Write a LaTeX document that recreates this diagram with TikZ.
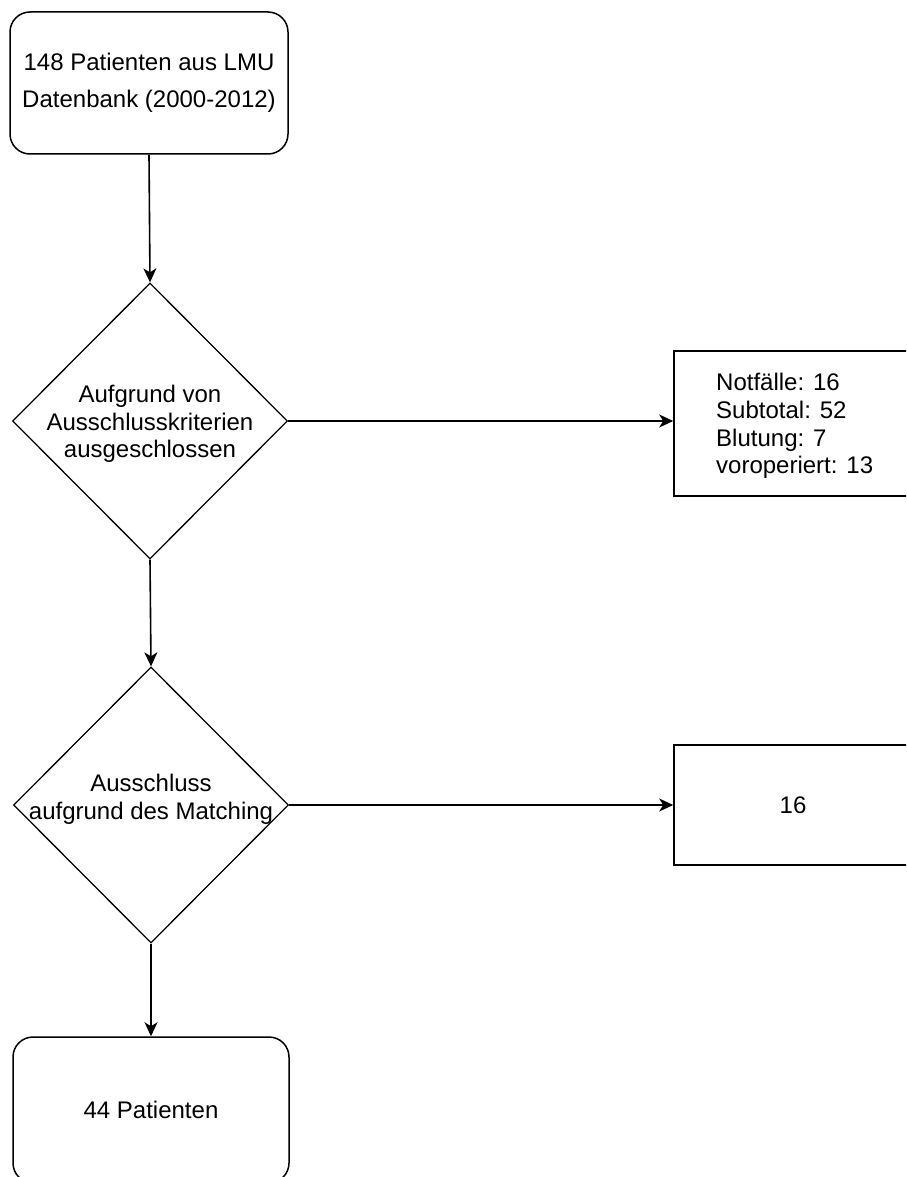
\documentclass[tikz,border=0pt]{standalone}
\usepackage{fontspec}
\setmainfont{Liberation Sans}
\usetikzlibrary{shapes.geometric,arrows.meta}
\begin{document}
\begin{tikzpicture}[x=1pt,y=-1pt,
  every node/.style={font=\fontsize{24}{27.6}\selectfont, text=black},
  roundbox/.style={draw=black, line width=1.5pt, rounded corners=20pt, minimum width=278pt, minimum height=142pt, inner sep=0pt},
  plainbox/.style={draw=black, line width=1.6pt, minimum width=238pt, inner sep=0pt},
  dia/.style={draw=black, line width=1.3pt, diamond, minimum width=275pt, minimum height=276pt, inner sep=0pt},
  lbl/.style={align=center, inner sep=0pt},
  conn/.style={draw=black, line width=1.6pt, -{Stealth[length=14pt,width=13pt,inset=4pt]}}
]
\path[use as bounding box] (0,0) rectangle (906,1177);
\clip (0,0) rectangle (906,1177);

\node[roundbox, align=center, font=\fontsize{24}{37}\selectfont] (top) at (149,83) {148 Patienten aus LMU\\Datenbank (2000-2012)};

\node[dia] (d1) at (150,421) {};
\node[lbl] (d1t) at (150,424) {Aufgrund von\\Ausschlusskriterien\\ausgeschlossen};

\node[plainbox, minimum height=145pt] (r1) at (793,423.5) {};
\node[lbl, align=left, anchor=west] (r1t) at (716,426) {Notfälle: 16\\Subtotal: 52\\Blutung: 7\\voroperiert: 13};

\node[dia] (d2) at (151,805) {};
\node[lbl] (d2t) at (151,799) {Ausschluss\\aufgrund des Matching};

\node[plainbox, minimum height=120pt] (r2) at (793,805) {};
\node[lbl] (r2t) at (793,805) {16};

\node[roundbox, minimum width=276pt, minimum height=146pt] (bot) at (151,1110) {44 Patienten};

\draw[conn] (top.south) -- (d1.north);
\draw[conn] (d1.east) -- (d1.east -| r1.west);
\draw[conn] (d1.south) -- (d2.north);
\draw[conn] (d2.east) -- (d2.east -| r2.west);
\draw[conn] (d2.south) -- (bot.north);
\end{tikzpicture}
\end{document}
